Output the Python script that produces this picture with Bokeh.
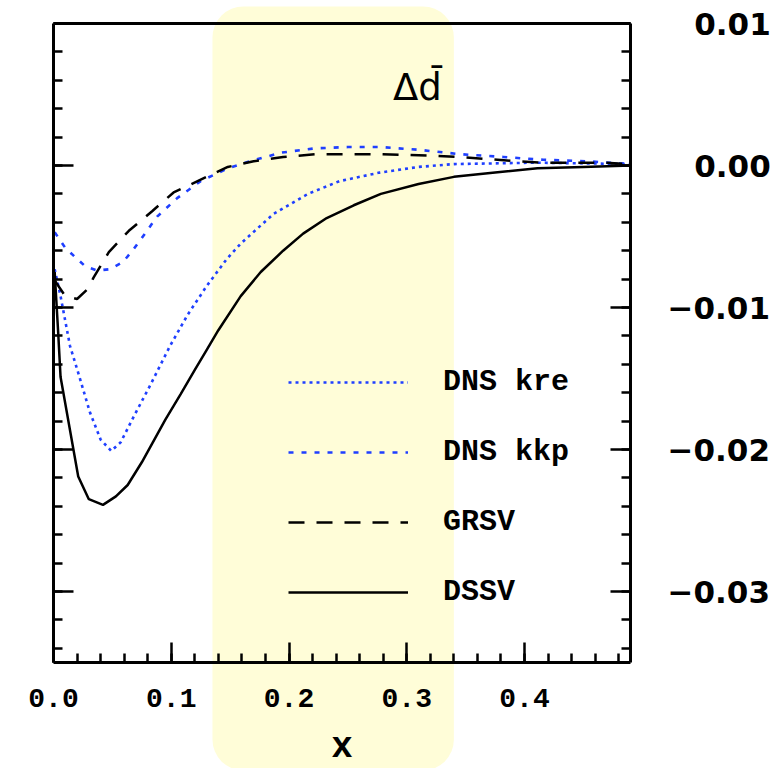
from bokeh.plotting import figure
from bokeh.models import (Range1d, LinearAxis, FixedTicker, BoxAnnotation, Legend,
                          LegendItem, Label, CustomJSTickFormatter)
from bokeh.embed import file_html
from bokeh.resources import INLINE

# ---------------- data ----------------
x_dssv = [0.001, 0.004, 0.006, 0.021, 0.030, 0.042, 0.053, 0.063, 0.075, 0.095, 0.108, 0.120,
          0.130, 0.140, 0.159, 0.176, 0.195, 0.212, 0.232, 0.255, 0.278, 0.310, 0.340, 0.375,
          0.411, 0.450, 0.490]
y_dssv = [-0.0075, -0.0118, -0.0149, -0.0219, -0.0235, -0.0239, -0.0233, -0.0225, -0.0209,
          -0.0179, -0.0161, -0.0144, -0.0130, -0.0116, -0.0092, -0.0075, -0.0060, -0.0048,
          -0.0037, -0.0028, -0.0020, -0.0013, -0.0008, -0.0005, -0.0002, -0.0001, 0.0]

x_kre = [0.001, 0.006, 0.014, 0.021, 0.031, 0.040, 0.049, 0.057, 0.068, 0.082, 0.099, 0.114,
         0.130, 0.147, 0.159, 0.187, 0.216, 0.243, 0.277, 0.310, 0.340, 0.410, 0.490]
y_kre = [-0.0073, -0.0092, -0.0127, -0.0146, -0.0174, -0.0193, -0.0201, -0.0195, -0.0177,
         -0.0155, -0.0127, -0.0105, -0.0085, -0.0066, -0.0055, -0.0034, -0.0020, -0.0011,
         -0.0005, -0.0001, 0.0001, 0.0002, 0.0001]

x_kkp = [0.001, 0.010, 0.019, 0.027, 0.037, 0.048, 0.059, 0.067, 0.075, 0.088, 0.105, 0.125,
         0.148, 0.167, 0.193, 0.221, 0.250, 0.278, 0.311, 0.345, 0.382, 0.416, 0.453, 0.490]
y_kkp = [-0.0047, -0.0058, -0.0065, -0.0071, -0.0074, -0.0073, -0.0068, -0.0060, -0.0051,
         -0.0036, -0.0023, -0.0011, -0.0002, 0.0003, 0.0009, 0.0012, 0.0013, 0.0013, 0.0011,
         0.0008, 0.0006, 0.0004, 0.0003, 0.0001]

x_grsv = [0.001, 0.010, 0.020, 0.029, 0.034, 0.047, 0.064, 0.084, 0.102, 0.125, 0.148, 0.170,
          0.195, 0.224, 0.250, 0.278, 0.320, 0.345, 0.394, 0.416, 0.467, 0.490]
y_grsv = [-0.0081, -0.0092, -0.0094, -0.0087, -0.0079, -0.0061, -0.0046, -0.0032, -0.0019,
          -0.0010, -0.0001, 0.0003, 0.0006, 0.0008, 0.0008, 0.0008, 0.0007, 0.0006, 0.0003,
          0.0002, 0.0002, 0.0001]

series_labels = ["DNS kre", "DNS kkp", "GRSV", "DSSV"]

x_ticks = [0.0, 0.1, 0.2, 0.3, 0.4]
x_tick_labels = ["0.0", "0.1", "0.2", "0.3", "0.4"]
x_minor = [round(0.02 * i, 4) for i in range(0, 25)]
y_ticks = [-0.03, -0.02, -0.01, 0.0, 0.01]
y_tick_labels = ["\u22120.03", "\u22120.02", "\u22120.01", "0.00", "0.01"]
y_minor = [round(-0.034 + 0.002 * i, 4) for i in range(0, 23)]

band_x = [0.135, 0.340]
title_text = "\u0394d\u0304"
x_label = "x"

# ---------------- layout ----------------
W, H = 780, 768
X0, X1, Y0, Y1 = 0.0, 0.49, -0.035, 0.01        # axis box (data)
BL, BT, BR, BB = 53, 23, 150, 106                # box position inside the canvas (px)
px_per_x = (W - BL - BR) / (X1 - X0)
px_per_y = (H - BT - BB) / (Y1 - Y0)


def y_of_canvas(py):
    return Y1 - (py - BT) / px_per_y


# the plotting frame spans the whole canvas; the axes are fixed at the box edges
p = figure(width=W, height=H, min_border=0,
           x_range=Range1d(X0 - BL / px_per_x, X1 + BR / px_per_x),
           y_range=Range1d(y_of_canvas(H), y_of_canvas(0)),
           output_backend="svg", toolbar_location=None,
           x_axis_location=None, y_axis_location=None,
           background_fill_color="white", border_fill_color="white")
p.grid.visible = False
p.outline_line_color = None

band = BoxAnnotation(left=band_x[0], right=band_x[1], top=y_of_canvas(6), bottom=y_of_canvas(770),
                     fill_color="#FFFDD8", fill_alpha=1.0, line_color=None,
                     border_radius=31, level="underlay")
p.add_layout(band)


def style_axis(ax):
    ax.axis_line_width = 3
    ax.axis_line_color = "black"
    ax.major_tick_line_width = 2.5
    ax.minor_tick_line_width = 2.5
    ax.major_tick_line_color = "black"
    ax.minor_tick_line_color = "black"
    ax.major_tick_in = 20
    ax.major_tick_out = 0
    ax.minor_tick_in = 9
    ax.minor_tick_out = 0


xa = LinearAxis(ticker=FixedTicker(ticks=x_ticks, minor_ticks=x_minor),
                formatter=CustomJSTickFormatter(args=dict(labels=x_tick_labels),
                                                code="return labels[index];"),
                fixed_location=Y0, bounds=(X0, X1))
style_axis(xa)
xa.major_label_text_font = "Liberation Mono"
xa.major_label_text_font_style = "bold"
xa.major_label_text_font_size = "28px"
xa.major_label_text_color = "black"
xa.major_label_standoff = 26
xa.axis_label = x_label
xa.axis_label_text_font = "Liberation Mono"
xa.axis_label_text_font_style = "bold"
xa.axis_label_text_font_size = "36px"
xa.axis_label_text_color = "black"
xa.axis_label_standoff = 17
p.add_layout(xa, "below")

ya = LinearAxis(ticker=FixedTicker(ticks=y_ticks, minor_ticks=y_minor),
                formatter=CustomJSTickFormatter(code="return '';"),
                fixed_location=X0, bounds=(Y0, Y1))
style_axis(ya)
p.add_layout(ya, "left")

# right-hand labels, right-aligned by padding non-negative values with spaces
yr = LinearAxis(ticker=FixedTicker(ticks=y_ticks, minor_ticks=y_minor),
                formatter=CustomJSTickFormatter(
                    args=dict(labels=y_tick_labels),
                    code="const s = labels[index]; "
                         "return s.startsWith('\u2212') ? s : '\u2007\u2006' + s;"),
                fixed_location=X1, bounds=(Y0, Y1))
style_axis(yr)
yr.major_label_text_font = "DejaVu Sans"
yr.major_label_text_font_style = "bold"
yr.major_label_text_font_size = "31px"
yr.major_label_text_color = "black"
yr.major_label_standoff = 37
p.add_layout(yr, "right")

xt = LinearAxis(ticker=FixedTicker(ticks=[]), formatter=CustomJSTickFormatter(code="return '';"),
                fixed_location=Y1, bounds=(X0, X1))
style_axis(xt)
xt.major_tick_in = 0
xt.minor_tick_in = 0
p.add_layout(xt, "above")

blue = "#1f3fff"
r_kre = p.line(x_kre, y_kre, line_color=blue, line_width=2.6, line_dash="3 4")
r_kkp = p.line(x_kkp, y_kkp, line_color=blue, line_width=2.6, line_dash="5 8")
r_grsv = p.line(x_grsv, y_grsv, line_color="black", line_width=2.5, line_dash="16 12")
r_dssv = p.line(x_dssv, y_dssv, line_color="black", line_width=2.5)

legend = Legend(items=[LegendItem(label=series_labels[0], renderers=[r_kre]),
                       LegendItem(label=series_labels[1], renderers=[r_kkp]),
                       LegendItem(label=series_labels[2], renderers=[r_grsv]),
                       LegendItem(label=series_labels[3], renderers=[r_dssv])],
                location=(288, H - 627), orientation="vertical",
                glyph_width=120, glyph_height=70, label_height=70, label_standoff=35,
                spacing=0, padding=0, margin=0,
                border_line_color=None, background_fill_alpha=0,
                label_text_font="Liberation Mono", label_text_font_style="bold",
                label_text_font_size="30px", label_text_color="black",
                label_text_baseline="middle")
p.add_layout(legend)

title = Label(x=0.309, y=0.0055, text=title_text, text_align="center",
              text_baseline="middle", text_font="DejaVu Sans", text_font_size="37px",
              text_color="black")
p.add_layout(title)

open("out.html", "w").write(file_html(p, INLINE))
